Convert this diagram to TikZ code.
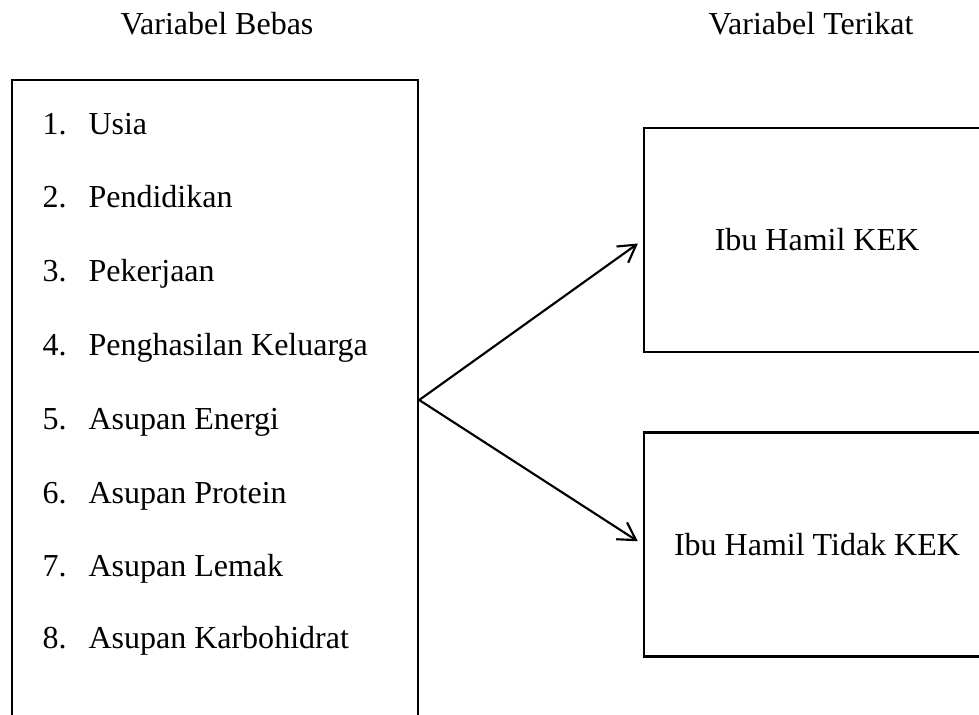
\documentclass[tikz,border=0pt]{standalone}
\usepackage{fontspec}
\setmainfont{Liberation Serif}
\usetikzlibrary{arrows.meta, positioning}

\newcommand{\butir}[2]{\makebox[17.25pt][l]{#1}#2}

\begin{document}
\begin{tikzpicture}[x=0.375pt, y=-0.375pt,
    every node/.style={font=\fontsize{12pt}{14pt}\selectfont},
    kotak/.style={draw, line width=0.9pt, rectangle, inner sep=0pt},
    judul/.style={anchor=base, inner sep=0pt},
    item/.style={anchor=base west, inner sep=0pt},
    panah/.style={-{Straight Barb[length=6.4pt, width=7.5pt]}, line width=0.8pt, shorten >=2.25pt}]
    \useasboundingbox (0,0) rectangle (979,715);
    \clip (0,0) rectangle (979,715);

    % Judul
    \node[judul] (jbebas) at (217,35) {Variabel Bebas};
    \node[judul] (jterikat) at (811,35) {Variabel Terikat};

    % Kotak
    \node[kotak, minimum width=152.25pt, minimum height=240pt] (bebas) at (215,400) {};
    \node[kotak, minimum width=129.75pt, minimum height=84pt] (kek) at (817,240) {Ibu Hamil KEK};
    \node[kotak, minimum width=129.75pt, minimum height=84pt] (tidakkek) at (817,544.5) {Ibu Hamil Tidak KEK};

    % Daftar variabel bebas
    \node[item] (usia) at (42,135) {\butir{1.}{Usia}};
    \node[item] (pendidikan) at (42,208) {\butir{2.}{Pendidikan}};
    \node[item] (pekerjaan) at (42,282) {\butir{3.}{Pekerjaan}};
    \node[item] (penghasilan) at (42,356) {\butir{4.}{Penghasilan Keluarga}};
    \node[item] (energi) at (42,429) {\butir{5.}{Asupan Energi}};
    \node[item] (protein) at (42,503) {\butir{6.}{Asupan Protein}};
    \node[item] (lemak) at (42,576) {\butir{7.}{Asupan Lemak}};
    \node[item] (karbo) at (42,648) {\butir{8.}{Asupan Karbohidrat}};

    % Panah
    \draw[panah] (bebas.east) -- (kek.west);
    \draw[panah] (bebas.east) -- (tidakkek.west);
\end{tikzpicture}
\end{document}
